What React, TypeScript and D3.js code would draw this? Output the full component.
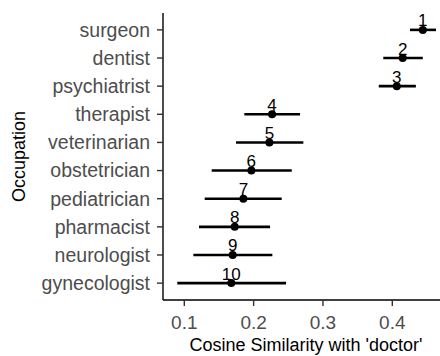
import React from "react";
import * as d3 from "d3";

const occupations = ["surgeon","dentist","psychiatrist","therapist","veterinarian","obstetrician","pediatrician","pharmacist","neurologist","gynecologist"];
const ranks = [1,2,3,4,5,6,7,8,9,10];
const similarity = [0.444,0.415,0.4065,0.2266,0.2227,0.1967,0.1852,0.1727,0.1698,0.1678];
const lower = [0.4255,0.387,0.3805,0.1866,0.1746,0.1395,0.1294,0.1212,0.113,0.0899];
const upper = [0.463,0.444,0.434,0.267,0.2717,0.255,0.2405,0.2237,0.227,0.2468];
const xTicks = [0.1,0.2,0.3,0.4];

export default function App() {
  const W = 440, H = 356;
  const left = 163, right = 440, top = 13, bottom = 300;
  const x = d3.scaleLinear().domain([0.1, 0.4]).range([184.3, 392.3]);
  const y = d3.scalePoint<string>().domain(occupations).range([top, bottom]).padding(0.6);
  const font = "Liberation Sans, Arial, sans-serif";
  return (
    <svg width={W} height={H} style={{ position: "absolute", left: 0, top: 0 }} fontFamily={font}>
      <rect width={W} height={H} fill="white" />
      <line x1={left} x2={left} y1={top} y2={bottom} stroke="black" strokeWidth={1.4} />
      <line x1={left} x2={right} y1={bottom} y2={bottom} stroke="black" strokeWidth={1.4} />
      {occupations.map((o) => (
        <g key={o}>
          <line x1={left - 6} x2={left} y1={y(o)} y2={y(o)} stroke="#333" strokeWidth={1.4} />
          <text x={left - 13} y={y(o)!} dy="0.35em" textAnchor="end" fontSize={19.5} fill="#4d4d4d">{o}</text>
        </g>
      ))}
      {xTicks.map((t) => (
        <g key={t}>
          <line x1={x(t)} x2={x(t)} y1={bottom} y2={bottom + 6} stroke="#333" strokeWidth={1.4} />
          <text x={x(t)} y={328.5} textAnchor="middle" fontSize={19} fill="#4d4d4d">{d3.format(".1f")(t)}</text>
        </g>
      ))}
      <text x={306} y={351} textAnchor="middle" fontSize={18} fill="black">Cosine Similarity with 'doctor'</text>
      <text transform={`translate(25,${(top + bottom) / 2}) rotate(-90)`} textAnchor="middle" fontSize={18} fill="black">Occupation</text>
      {occupations.map((o, i) => (
        <g key={"p" + o}>
          <line x1={x(lower[i])} x2={x(upper[i])} y1={y(o)} y2={y(o)} stroke="black" strokeWidth={2.6} />
          <circle cx={x(similarity[i])} cy={y(o)} r={4} fill="black" />
          <text x={x(similarity[i])} y={y(o)! - 3.5} textAnchor="middle" fontSize={17} fill="black">{ranks[i]}</text>
        </g>
      ))}
    </svg>
  );
}
